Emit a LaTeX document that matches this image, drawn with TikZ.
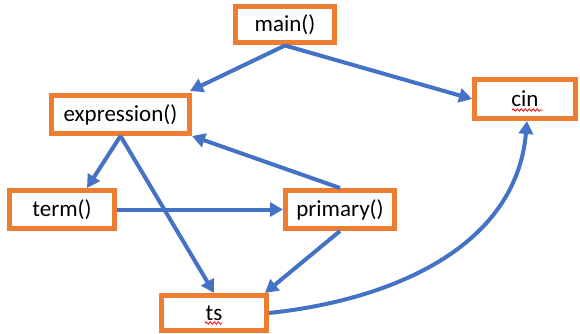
\documentclass[tikz,border=0pt]{standalone}
\usepackage{fontspec}
\setmainfont{Carlito}
\usetikzlibrary{arrows.meta,calc,decorations.pathmorphing}

\definecolor{boxorange}{HTML}{ED7D31}
\definecolor{linkblue}{HTML}{4472C4}

\tikzset{
  fnbox/.style={draw=boxorange, line width=5pt, fill=white, rectangle,
    inner sep=0pt, font=\fontsize{23}{27}\selectfont, text=black},
  call/.style={draw=linkblue, line width=4pt,
    -{Triangle[length=13pt,width=14pt]}},
  spell/.style={draw=red, line width=0.8pt, decorate,
    decoration={snake, amplitude=1.2pt, segment length=4pt}}
}

\begin{document}
\begin{tikzpicture}[x=1pt,y=-1pt]
  \useasboundingbox (0,0) rectangle (580,334);

  % function boxes
  \node[fnbox, minimum width=99pt,  minimum height=36pt] (main)    at (285,25)    {main()};
  \node[fnbox, minimum width=138pt, minimum height=38pt] (expr)    at (120.5,114.5) {expression()};
  \node[fnbox, minimum width=101pt, minimum height=39pt] (cin)     at (525,99)    {cin};
  \node[fnbox, minimum width=105pt, minimum height=38pt] (term)    at (62,209.5)  {term()};
  \node[fnbox, minimum width=109pt, minimum height=38pt] (primary) at (340,209.5) {primary()};
  \node[fnbox, minimum width=105pt, minimum height=35pt] (ts)      at (214,313)   {ts};

  % spell-check marks under the stream names
  \draw[spell] ($(cin.center)+(-13,11)$) -- ($(cin.center)+(17,11)$);
  \draw[spell] ($(ts.center)+(-9,10)$) -- ($(ts.center)+(8,10)$);

  % call arrows
  \draw[call] (main.south) -- ([xshift=-2pt,yshift=2pt]expr.north east);
  \draw[call] (main.south) -- (cin.west);
  \draw[call] (expr.south) -- ([xshift=25pt]term.north);
  \draw[call] (expr.south) -- (ts.north);
  \draw[call] (primary.north) -- (expr.south east);
  \draw[call] (term.east) -- (primary.west);
  \draw[call] (primary.south) -- ([xshift=-4pt]ts.north east);
  \draw[call] (ts.east) to[out=6,in=-95] ([xshift=2pt]cin.south);
\end{tikzpicture}
\end{document}
